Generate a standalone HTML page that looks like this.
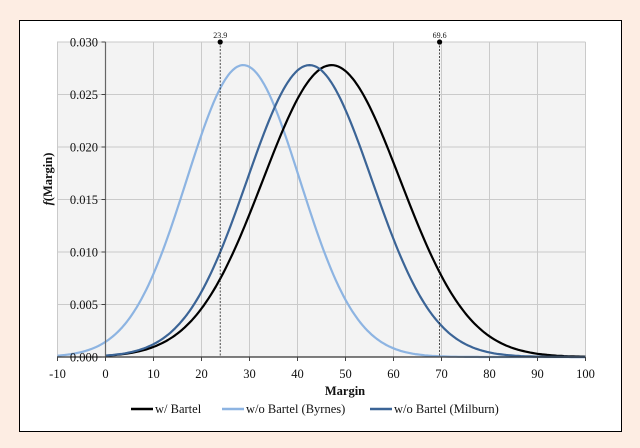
<!DOCTYPE html>
<html><head><meta charset="utf-8"><style>
html,body{margin:0;padding:0;background:#fdede3;}
svg{display:block;}
text{font-family:"Liberation Serif",serif;fill:#111;}
</style></head><body>
<svg id="s" width="640" height="448" xmlns="http://www.w3.org/2000/svg">
<rect x="0" y="0" width="640" height="448" fill="#fdede3"/>
<rect x="19.5" y="20.5" width="602" height="411" fill="#fff" stroke="#000" stroke-width="1"/>
<rect x="57" y="42" width="528.5" height="315" fill="#f3f3f3"/>
<g id="grid" stroke="#cacaca" stroke-width="1"></g>
<g id="curves" fill="none" stroke-width="2.2" stroke-linejoin="round"></g>
<line x1="105.5" y1="42" x2="105.5" y2="357" stroke="#666" stroke-width="1.2"/>
<line x1="57" y1="357" x2="585.5" y2="357" stroke="#333" stroke-width="1.2"/>
<g id="ticks" stroke="#444" stroke-width="1"></g>
<g stroke="#222" stroke-width="0.8" stroke-dasharray="2,1.5">
<line x1="220.2" y1="42" x2="220.2" y2="357"/>
<line x1="439.6" y1="42" x2="439.6" y2="357"/>
</g>
<circle cx="220.2" cy="42" r="2.6" fill="#000"/>
<circle cx="439.6" cy="42" r="2.6" fill="#000"/>
<text x="220.2" y="38" font-size="8" text-anchor="middle">23.9</text>
<text x="439.6" y="38" font-size="8" text-anchor="middle">69.6</text>
<g id="labels" font-size="12.5"></g>
<text x="345" y="395" font-size="12.5" font-weight="bold" text-anchor="middle">Margin</text>
<text transform="translate(52,179) rotate(-90)" font-size="12.5" font-weight="bold" text-anchor="middle"><tspan font-style="italic">f</tspan>(Margin)</text>
<line x1="131" y1="409" x2="153" y2="409" stroke="#000" stroke-width="2.5"/>
<text x="155" y="413" font-size="12.5">w/ Bartel</text>
<line x1="222" y1="409" x2="244" y2="409" stroke="#8db4e2" stroke-width="2.5"/>
<text x="246" y="413" font-size="12.5">w/o Bartel (Byrnes)</text>
<line x1="370" y1="409" x2="392" y2="409" stroke="#3b6496" stroke-width="2.5"/>
<text x="394" y="413" font-size="12.5">w/o Bartel (Milburn)</text>
</svg>
<script>
var NS="http://www.w3.org/2000/svg";
function X(v){return 105.5+4.8*v;}
function Y(v){return 357-v*10500;}
function el(p,n,a,t){var e=document.createElementNS(NS,n);for(var k in a)e.setAttribute(k,a[k]);if(t!==undefined)e.textContent=t;p.appendChild(e);return e;}
var g=document.getElementById('grid'),tk=document.getElementById('ticks'),lb=document.getElementById('labels'),cv=document.getElementById('curves');
for(var v=-10;v<=100;v+=10){el(g,'line',{x1:X(v),y1:42,x2:X(v),y2:357});el(tk,'line',{x1:X(v),y1:357,x2:X(v),y2:361});el(lb,'text',{x:X(v),y:378,'text-anchor':'middle'},String(v));}
for(var i=0;i<=6;i++){var y=Y(i*0.005);el(g,'line',{x1:57,y1:y,x2:585.5,y2:y});el(tk,'line',{x1:101.5,y1:y,x2:105.5,y2:y});el(lb,'text',{x:98,y:y+4.5,'text-anchor':'end'},(i*0.005).toFixed(3));}
function curve(m,sd,col,x0){var d="";for(var x=x0;x<=100.01;x+=0.5){var f=0.0278*Math.exp(-0.5*Math.pow((x-m)/sd,2));d+=(d?"L":"M")+X(x).toFixed(1)+","+Y(f).toFixed(1);}el(cv,'path',{d:d,stroke:col});}
curve(28.7,11.8,'#8db4e2',-10);
curve(47.1,14.3,'#000',0);
curve(42.5,13.0,'#3b6496',0);
</script>
</body></html>
